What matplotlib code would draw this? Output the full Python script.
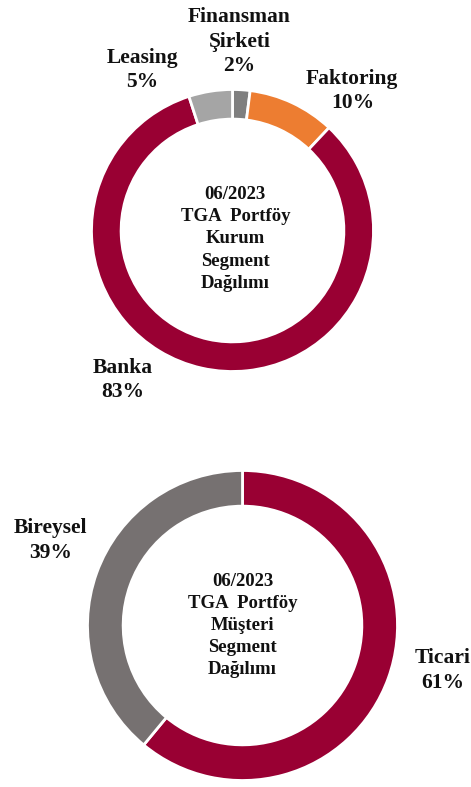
import matplotlib
matplotlib.use("Agg")
import matplotlib.pyplot as plt

# top donut: institution segment
kurum_labels = ["Finansman\nŞirketi", "Faktoring", "Banka", "Leasing"]
kurum_values = [2, 10, 83, 5]
kurum_colors = ["#7f7f7f", "#ed7d31", "#990033", "#a5a5a5"]
kurum_title = "06/2023\nTGA  Portföy\nKurum\nSegment\nDağılımı"

# bottom donut: customer segment
musteri_labels = ["Ticari", "Bireysel"]
musteri_values = [61, 39]
musteri_colors = ["#990033", "#767171"]
musteri_title = "06/2023\nTGA  Portföy\nMüşteri\nSegment\nDağılımı"

plt.rcParams['font.family'] = ['Liberation Serif', 'DejaVu Serif']

W, H = 471, 787
fig = plt.figure(figsize=(W / 100, H / 100), dpi=100)


def donut(cx, cy, r, values, colors, width):
    ax = fig.add_axes([(cx - r) / W, (H - cy - r) / H, 2 * r / W, 2 * r / H])
    ax.pie(values, colors=colors, startangle=90, counterclock=False,
           radius=1, wedgeprops=dict(width=width, edgecolor="white", linewidth=2))
    ax.set_xlim(-1, 1)
    ax.set_ylim(-1, 1)
    ax.set_aspect("equal")
    ax.axis("off")
    return ax


lbl = dict(ha="center", va="center", fontsize=15.5, fontweight="bold",
           linespacing=1.3, color="#111111")
mid = dict(ha="center", va="center", fontsize=13.5, fontweight="bold",
           linespacing=1.4, color="#111111")

ax1 = donut(232.5, 230.5, 141, kurum_values, kurum_colors, 0.21)
pos1 = [(0.05, 1.34), (0.85, 0.99), (-0.78, -1.06), (-0.64, 1.14)]
for name, v, (x, y) in zip(kurum_labels, kurum_values, pos1):
    ax1.text(x, y, f"{name}\n{v}%", **lbl)
ax1.text(0.02, -0.06, kurum_title, **mid)

ax2 = donut(242.5, 625.5, 155, musteri_values, musteri_colors, 0.23)
pos2 = [(1.29, -0.29), (-1.24, 0.55)]
for name, v, (x, y) in zip(musteri_labels, musteri_values, pos2):
    ax2.text(x, y, f"{name}\n{v}%", **lbl)
ax2.text(0.0, 0.0, musteri_title, **mid)

fig.savefig("out.png", dpi=100)
